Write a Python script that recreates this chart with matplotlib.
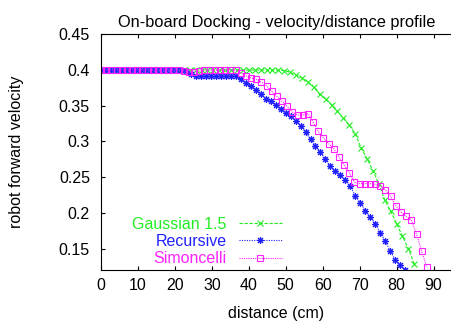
import matplotlib
matplotlib.use("Agg")
import matplotlib.pyplot as plt

plt.rcParams['font.family'] = ['Liberation Sans', 'DejaVu Sans']
plt.rcParams['font.size'] = 11.5

# Gaussian 1.5 (green x)
gauss_d = [0, 1.6, 3.2, 4.8, 6.4, 8, 9.6, 11.2, 12.8, 14.4, 16, 17.6, 19.2,
           20.8, 22.4, 24, 25.6, 27.2, 28.8, 30.4, 32, 33.6, 35.2, 36.8, 38.4,
           40, 41.6, 43.2, 44.8, 46.4, 48, 49.6, 51.2, 52.8, 54.4, 56, 57.6,
           59.2, 60.8, 62.4, 64, 65.6, 67.2, 68.8, 70.4, 72, 73.6, 75.2, 76.8,
           78.4, 80, 81.6, 83.2, 84.8]
gauss_v = [0.4, 0.4, 0.4, 0.4, 0.4, 0.4, 0.4, 0.4, 0.4, 0.4, 0.4, 0.4, 0.4,
           0.4, 0.4, 0.4, 0.4, 0.4, 0.4, 0.4, 0.4, 0.4, 0.4, 0.4, 0.4,
           0.4, 0.4, 0.4, 0.4, 0.4, 0.4, 0.399, 0.397, 0.393, 0.389, 0.383, 0.376,
           0.366, 0.359, 0.351, 0.342, 0.333, 0.323, 0.311, 0.291, 0.276, 0.259,
           0.241, 0.218, 0.202, 0.185, 0.167, 0.15, 0.128]

# Recursive (blue asterisk)
recur_d = [0, 1.35, 2.7, 4.05, 5.4, 6.75, 8.1, 9.45, 10.8, 12.15, 13.5, 14.85,
           16.2, 17.55, 18.9, 20.25, 21.6, 22.95, 24.3, 25.65, 27.0, 28.35,
           29.7, 31.05, 32.4, 33.75, 35.1, 36.45, 37.8, 39.15, 40.5, 41.85,
           43.2, 44.55, 45.9, 47.25, 48.6, 49.95, 51.3, 52.65, 54.0, 55.35,
           56.7, 58.05, 59.4, 60.75, 62.1, 63.45, 64.8, 66.15, 67.5, 68.85,
           70.2, 71.55, 72.9, 74.25, 75.6, 76.95, 78.3, 79.65, 81.0, 82.35]
recur_v = [0.4, 0.4, 0.4, 0.4, 0.4, 0.4, 0.4, 0.4, 0.4, 0.4, 0.4, 0.4,
           0.4, 0.4, 0.4, 0.4, 0.4, 0.398, 0.394, 0.392, 0.391, 0.391,
           0.391, 0.391, 0.391, 0.391, 0.391, 0.391, 0.387, 0.382, 0.378, 0.372,
           0.366, 0.36, 0.356, 0.351, 0.345, 0.34, 0.335, 0.329, 0.322, 0.313,
           0.303, 0.294, 0.285, 0.275, 0.265, 0.258, 0.253, 0.246, 0.237, 0.224,
           0.214, 0.203, 0.194, 0.185, 0.172, 0.16, 0.147, 0.134, 0.127, 0.12]

# Simoncelli (magenta boxes)
simon_d = [0, 1.4, 2.8, 4.2, 5.6, 7, 8.4, 9.8, 11.2, 12.6, 14, 15.4, 16.8,
           18.2, 19.6, 21, 22.4, 23.8, 25.2, 26.6, 28, 29.4, 30.8, 32.2, 33.6,
           35, 36.4, 37.8, 39.2, 40.6, 42, 43.4, 44.8, 46.2, 47.6, 49, 50.4,
           51.8, 53.2, 54.6, 56, 57.4, 58.8, 60.2, 61.6, 63, 64.4, 65.8, 67.2,
           68.6, 70, 71.4, 72.8, 74.2, 75.6, 77, 78.4, 79.8, 81.2, 82.6, 84,
           85.4, 86.8, 88.2]
simon_v = [0.4, 0.4, 0.4, 0.4, 0.4, 0.4, 0.4, 0.4, 0.4, 0.4, 0.4, 0.4, 0.4,
           0.4, 0.4, 0.4, 0.399, 0.397, 0.397, 0.398, 0.4, 0.4, 0.4, 0.4, 0.4,
           0.4, 0.4, 0.396, 0.392, 0.389, 0.387, 0.383, 0.378, 0.37, 0.363, 0.356, 0.349,
           0.341, 0.337, 0.337, 0.339, 0.327, 0.314, 0.305, 0.297, 0.29, 0.278, 0.267, 0.256,
           0.243, 0.241, 0.241, 0.241, 0.24, 0.238, 0.232, 0.223, 0.21, 0.201, 0.195, 0.19,
           0.17, 0.146, 0.124]

xticks = [0, 10, 20, 30, 40, 50, 60, 70, 80, 90]
yticks = [0.15, 0.2, 0.25, 0.3, 0.35, 0.4, 0.45]
ytick_labels = ["0.15", "0.2", "0.25", "0.3", "0.35", "0.4", "0.45"]

GREEN, BLUE, PINK = '#22ee22', '#2020ff', '#ff22ff'

fig = plt.figure(figsize=(4.52, 3.27), dpi=100)
ax = fig.add_axes([0.2235, 0.1743, 0.7765, 0.7208])

ax.plot(gauss_d, gauss_v, color=GREEN, lw=0.8, ls=(0, (3, 1.5)),
        marker='x', ms=4.5, mew=0.8, label='Gaussian 1.5')
ax.plot(recur_d, recur_v, color=BLUE, lw=0.8, ls=(0, (1, 1.2)),
        marker=(8, 2, 0), ms=5, mew=0.8, label='Recursive')
ax.plot(simon_d, simon_v, color=PINK, lw=0.8, ls=(0, (1, 1)),
        marker='s', ms=5, mew=0.8, mfc='none', label='Simoncelli')

ax.set_xlim(0, 95)
ax.set_ylim(0.12, 0.45)
ax.set_xticks(xticks)
ax.set_yticks(yticks)
ax.set_yticklabels(ytick_labels)
ax.spines['right'].set_visible(False)
ax.tick_params(direction='in', length=3, width=0.8, top=True, right=False)
ax.tick_params(axis='x', pad=6)
ax.tick_params(axis='y', pad=8)

ax.set_title("On-board Docking - velocity/distance profile", fontsize=11.8, pad=5)
ax.set_xlabel("distance (cm)", labelpad=9)
ax.set_ylabel("robot forward velocity", labelpad=25)

# markerfirst=False right-aligns the rows, so labels end next to the samples
ax.legend(loc='lower right', bbox_to_anchor=(0.515, 0.015),
          markerfirst=False, frameon=False, numpoints=1,
          handlelength=2.7, handletextpad=0.75, labelspacing=0.15,
          borderpad=0, borderaxespad=0,
          labelcolor=[GREEN, BLUE, PINK])

fig.savefig("out.png", dpi=100)
